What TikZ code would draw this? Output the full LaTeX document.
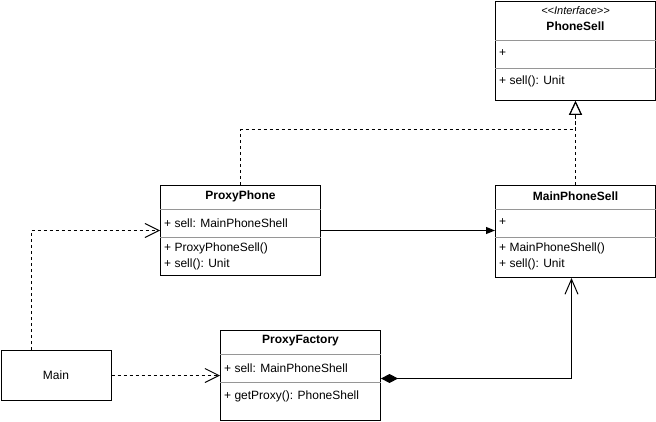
\documentclass[tikz,border=0pt]{standalone}
\usepackage{fontspec}
\setmainfont{Liberation Sans}
\usepackage{xcolor}
\usetikzlibrary{arrows.meta}
\definecolor{sepColor}{RGB}{150, 150, 150}

\begin{document}
\begin{tikzpicture}[x=1pt, y=-1pt, font=\fontsize{12}{14}\selectfont,
    classBox/.style={draw, line width=1pt, anchor=north west, inner sep=0pt, minimum width=160pt},
    classTitle/.style={font=\fontsize{12}{14}\selectfont\bfseries},
    member/.style={anchor=west, inner sep=0pt},
    sepLine/.style={sepColor, line width=0.8pt},
    realize/.style={line width=1pt, dash pattern=on 3pt off 3pt, -{Triangle[open, length=14pt, width=13pt]}},
    depend/.style={line width=1pt, dash pattern=on 3pt off 3pt, -{Straight Barb[length=14pt, width=14pt]}},
    assoc/.style={line width=1pt, -{Triangle[length=9pt, width=7pt]}},
    compose/.style={line width=1pt, {Diamond[length=17pt, width=9pt]}-{Straight Barb[length=15pt, width=13pt]}}]
    \useasboundingbox (0,0) rectangle (656,422);

    % Interface PhoneSell
    \node[classBox, minimum height=99pt] (phoneSell) at (495,1) {};
    \node[font=\fontsize{11}{13}\selectfont\itshape] (phoneSellStereo) at ([yshift=-10pt]phoneSell.north) {{<}{<}Interface{>}{>}};
    \node[classTitle] (phoneSellTitle) at ([yshift=-25pt]phoneSell.north) {PhoneSell};
    \draw[sepLine] ([yshift=-39pt]phoneSell.north west) -- ([yshift=-39pt]phoneSell.north east);
    \draw[sepLine] ([yshift=-67pt]phoneSell.north west) -- ([yshift=-67pt]phoneSell.north east);
    \node[member] (phoneSellAttr) at ([shift={(4,52)}]phoneSell.north west) {+};
    \node[member] (phoneSellOp) at ([shift={(4,80)}]phoneSell.north west) {+ sell(): Unit};

    % ProxyPhone
    \node[classBox, minimum height=90pt] (proxyPhone) at (160,185) {};
    \node[classTitle] (proxyPhoneTitle) at ([yshift=-11pt]proxyPhone.north) {ProxyPhone};
    \draw[sepLine] ([yshift=-24pt]proxyPhone.north west) -- ([yshift=-24pt]proxyPhone.north east);
    \draw[sepLine] ([yshift=-52pt]proxyPhone.north west) -- ([yshift=-52pt]proxyPhone.north east);
    \node[member] (proxyPhoneAttr) at ([shift={(4,38)}]proxyPhone.north west) {+ sell: MainPhoneShell};
    \node[member] (proxyPhoneOpA) at ([shift={(4,63)}]proxyPhone.north west) {+ ProxyPhoneSell()};
    \node[member] (proxyPhoneOpB) at ([shift={(4,79)}]proxyPhone.north west) {+ sell(): Unit};

    % MainPhoneSell
    \node[classBox, minimum height=92pt] (mainSell) at (495,185) {};
    \node[classTitle] (mainSellTitle) at ([yshift=-11pt]mainSell.north) {MainPhoneSell};
    \draw[sepLine] ([yshift=-24pt]mainSell.north west) -- ([yshift=-24pt]mainSell.north east);
    \draw[sepLine] ([yshift=-52pt]mainSell.north west) -- ([yshift=-52pt]mainSell.north east);
    \node[member] (mainSellAttr) at ([shift={(4,37)}]mainSell.north west) {+};
    \node[member] (mainSellOpA) at ([shift={(4,63)}]mainSell.north west) {+ MainPhoneShell()};
    \node[member] (mainSellOpB) at ([shift={(4,79)}]mainSell.north west) {+ sell(): Unit};

    % Main
    \node[classBox, minimum width=110pt, minimum height=50pt] (mainBox) at (0.5,350) {};
    \node (mainLabel) at (mainBox.center) {Main};

    % ProxyFactory
    \node[classBox, minimum height=90pt] (factory) at (220,330) {};
    \node[classTitle] (factoryTitle) at ([yshift=-11pt]factory.north) {ProxyFactory};
    \draw[sepLine] ([yshift=-24pt]factory.north west) -- ([yshift=-24pt]factory.north east);
    \draw[sepLine] ([yshift=-52pt]factory.north west) -- ([yshift=-52pt]factory.north east);
    \node[member] (factoryAttr) at ([shift={(4,38)}]factory.north west) {+ sell: MainPhoneShell};
    \node[member] (factoryOp) at ([shift={(4,66)}]factory.north west) {+ getProxy(): PhoneShell};

    % Relations
    \draw[realize] (proxyPhone.north) -- ++(0,-55) -| (phoneSell.south);
    \draw[realize] (mainSell.north) -- (phoneSell.south);
    \draw[assoc] (proxyPhone.east) -- (proxyPhone.east -| mainSell.west);
    \draw[depend] ([xshift=-25pt]mainBox.north) |- (proxyPhone.west);
    \draw[depend] (mainBox.east) -- (factory.west);
    \draw[compose] ([yshift=-3pt]factory.east) -| ([xshift=-4pt]mainSell.south);
\end{tikzpicture}
\end{document}
